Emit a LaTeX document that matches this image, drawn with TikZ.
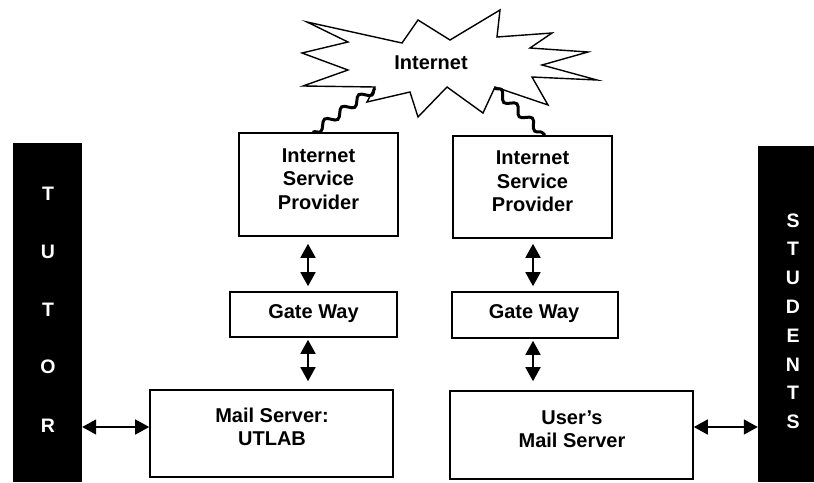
\documentclass[tikz,border=0pt]{standalone}
\usepackage{fontspec}
\setmainfont{Liberation Sans}
\usetikzlibrary{arrows.meta,decorations.pathmorphing}
\begin{document}
\begin{tikzpicture}[x=1pt,y=-1pt,
  box/.style={draw=black, line width=1.6pt, fill=white, inner sep=0pt},
  txt/.style={font=\fontsize{20}{23.5}\selectfont\bfseries, align=center, inner sep=0pt},
  bar/.style={fill=black, draw=none, inner sep=0pt},
  barletter/.style={text=white, font=\fontsize{19.5}{22}\selectfont\bfseries, inner sep=0pt},
  dbl/.style={line width=1.7pt, {Triangle[length=14pt,width=15pt]}-{Triangle[length=14pt,width=15pt]}},
  wave/.style={line width=3pt, decorate, decoration={snake, segment length=21pt, amplitude=4pt}},
  cloud/.style={draw=black, line width=1.4pt, fill=white, line join=miter}
]
\useasboundingbox (0,0) rectangle (814,482);
\fill[white] (0,0) rectangle (814,482);

% Internet cloud (spiky)
\draw[cloud] (348,42) -- (302,53) -- (348,70) -- (303,86) -- (375,87) -- (367,102)
  -- (410,92) -- (418,117) -- (447,87) -- (483,113) -- (495,87) -- (548,105)
  -- (532,77) -- (597,80) -- (542,65) -- (588,52) -- (530,48) -- (552,33)
  -- (497,37) -- (500,10) -- (450,40) -- (418,20) -- (402,43) -- (307,22) -- cycle;
\node[txt] (inet) at (431,63) {Internet};
\coordinate (cl) at (375,88);
\coordinate (cr) at (494,88);

% side bars
\node[bar, minimum width=69.3pt, minimum height=339pt] (tutor) at (47.35,312.5) {};
\node[bar, minimum width=56pt, minimum height=336pt] (students) at (786,314) {};
\foreach \l/\y [count=\i] in {T/194,U/252,T/310,O/367,R/426}
  \node[barletter] (tu\i) at (48,\y) {\l};
\foreach \l/\y [count=\i] in {S/221,T/249,U/278,D/307,E/336,N/365,T/393,S/422}
  \node[barletter] (st\i) at (793,\y) {\l};

% boxes
\node[box, minimum width=159pt, minimum height=103pt] (isp1) at (318.5,184.5) {};
\node[txt] (isp1t) at (318.5,179) {Internet\\Service\\Provider};
\node[box, minimum width=159pt, minimum height=102pt] (isp2) at (532.5,187) {};
\node[txt] (isp2t) at (532.5,181.5) {Internet\\Service\\Provider};
\node[box, minimum width=167pt, minimum height=45pt] (gw1) at (313.5,314.5) {};
\node[txt] (gw1t) at (313.5,314) {Gate Way};
\node[box, minimum width=166pt, minimum height=46pt] (gw2) at (535,315) {};
\node[txt] (gw2t) at (534,314) {Gate Way};
\node[box, minimum width=243pt, minimum height=87pt] (ms1) at (271.5,433.5) {};
\node[txt] (ms1t) at (272,427) {Mail Server:\\UTLAB};
\node[box, minimum width=243pt, minimum height=88pt] (ms2) at (571.5,435) {};
\node[txt] (ms2t) at (572,429) {User’s\\Mail Server};

% wavy links
\draw[wave] (cl) -- (isp1.north -| 313,0);
\draw[wave] (cr) -- (isp2.north -| 545,0);

% vertical arrows
\coordinate (ax1) at (308,0);
\coordinate (ax2) at (533,0);
\draw[dbl, shorten <=7pt, shorten >=5pt] (isp1.south -| ax1) -- (gw1.north -| ax1);
\draw[dbl, shorten <=2pt, shorten >=8pt] (gw1.south -| ax1) -- (ms1.north -| ax1);
\draw[dbl, shorten <=5pt, shorten >=5pt] (isp2.south -| ax2) -- (gw2.north -| ax2);
\draw[dbl, shorten <=2pt, shorten >=9pt] (gw2.south -| ax2) -- (ms2.north -| ax2);

% horizontal arrows
\coordinate (ay) at (0,427);
\draw[dbl] (tutor.east |- ay) -- (ms1.west |- ay);
\draw[dbl] (ms2.east |- ay) -- (students.west |- ay);
\end{tikzpicture}
\end{document}
